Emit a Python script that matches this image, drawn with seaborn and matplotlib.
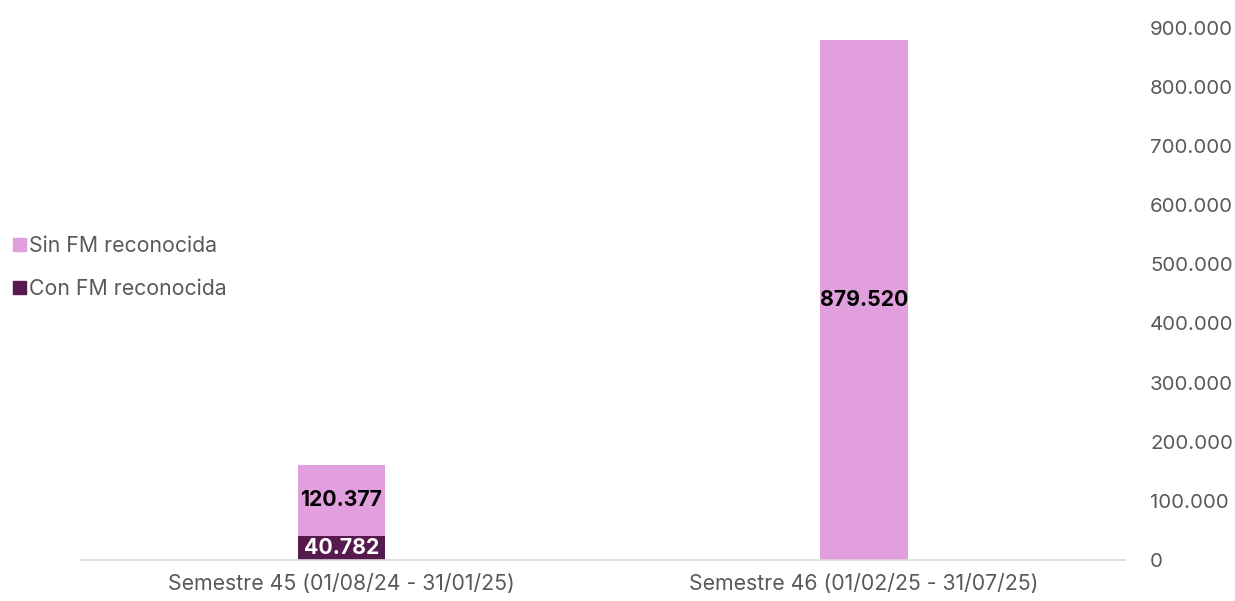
import matplotlib
matplotlib.use('Agg')
import matplotlib.pyplot as plt
import seaborn as sns
import pandas as pd
from matplotlib.patches import Patch

categorias = ['Semestre 45 (01/08/24 - 31/01/25)', 'Semestre 46 (01/02/25 - 31/07/25)']
con_fm = [40782, 0]
sin_fm = [120377, 879520]
ticks_y = [0, 100000, 200000, 300000, 400000, 500000, 600000, 700000, 800000, 900000]

color_sin = '#E29FDD'
color_con = '#561A4F'
gris = '#595959'

sns.set_theme(style='white')
plt.rcParams['font.family'] = ['Inter', 'DejaVu Sans']

def miles(v):
    return f'{v:,.0f}'.replace(',', '.')

df = pd.DataFrame({'cat': categorias, 'con': con_fm, 'sin': sin_fm})
df['total'] = df['con'] + df['sin']

fig = plt.figure(figsize=(12.35, 6.01), dpi=100)
ax = fig.add_axes([0.065, 0.068, 0.846, 0.886])

# barra total (parte rosa) y luego la parte oscura encima
sns.barplot(data=df, x='cat', y='total', color=color_sin, width=0.168, ax=ax,
            saturation=1, linewidth=0)
sns.barplot(data=df, x='cat', y='con', color=color_con, width=0.168, ax=ax,
            saturation=1, linewidth=0)

n = len(categorias)
for i, p in enumerate(ax.patches[:n]):
    x = p.get_x() + p.get_width() / 2
    y = df['con'][i] + df['sin'][i] / 2
    ax.text(x, y, miles(df['sin'][i]), ha='center', va='center',
            fontsize=15.3, fontweight='bold', color='black')
for i, p in enumerate(ax.patches[n:]):
    if df['con'][i] > 0:
        x = p.get_x() + p.get_width() / 2
        ax.text(x, df['con'][i] / 2, miles(df['con'][i]), ha='center', va='center',
                fontsize=15.3, fontweight='bold', color='white')

ax.set_ylim(0, 900000)
ax.set_yticks(ticks_y)
ax.set_yticklabels([miles(t) for t in ticks_y], fontsize=14.7, color=gris)
ax.yaxis.tick_right()
ax.tick_params(axis='y', length=0, pad=18)
ax.tick_params(axis='x', length=0, pad=10, labelsize=15.3, labelcolor=gris)
ax.set_xlabel('')
ax.set_ylabel('')
for s in ['top', 'left', 'right']:
    ax.spines[s].set_visible(False)
ax.spines['bottom'].set_color('#D9D9D9')
ax.spines['bottom'].set_linewidth(1.2)

handles = [Patch(color=color_sin, label='Sin FM reconocida'),
           Patch(color=color_con, label='Con FM reconocida')]
fig.legend(handles=handles, loc='center left', bbox_to_anchor=(-0.005, 0.555),
           frameon=False, fontsize=15.3, labelcolor=gris, handlelength=0.6,
           handleheight=0.6, handletextpad=0.15, labelspacing=1.1)

plt.savefig('out.png', dpi=100)
